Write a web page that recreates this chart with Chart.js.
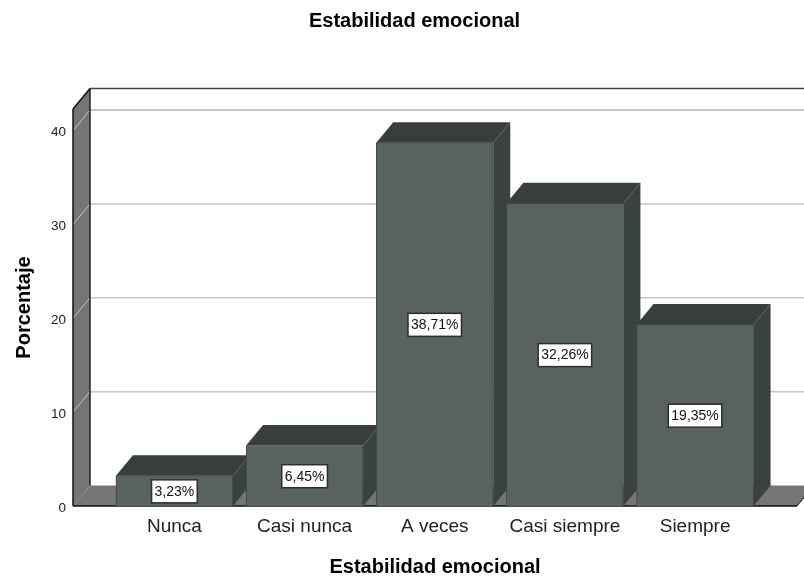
<!DOCTYPE html>
<html>
<head>
<meta charset="utf-8">
<title>Estabilidad emocional</title>
<script src="https://cdn.jsdelivr.net/npm/chart.js@4"></script>
<style>
  html, body { margin: 0; padding: 0; background: #fff; }
  canvas { display: block; }
</style>
</head>
<body>
<canvas id="chart" width="804" height="576"></canvas>
<script>
const categories = ["Nunca", "Casi nunca", "A veces", "Casi siempre", "Siempre"];
const percentages = [3.23, 6.45, 38.71, 32.26, 19.35];
const yTicks = [0, 10, 20, 30, 40];

// profundidad del efecto 3D
const DX = 17, DY = 20.5;
const FONT = '"Liberation Sans", Arial, sans-serif';
const FRONT = "#59635e", TOP = "#383e3a", SIDE = "#3a423d", WALL = "#757575", GRID = "#c6c6c6";

const poly = (ctx, pts, fill) => {
  ctx.beginPath();
  pts.forEach(([x, y], i) => i ? ctx.lineTo(x, y) : ctx.moveTo(x, y));
  ctx.closePath();
  ctx.fillStyle = fill;
  ctx.fill();
};
const seg = (ctx, x1, y1, x2, y2, color, w) => {
  ctx.beginPath();
  ctx.moveTo(x1, y1);
  ctx.lineTo(x2, y2);
  ctx.strokeStyle = color;
  ctx.lineWidth = w;
  ctx.stroke();
};

const box3d = {
  id: "box3d",
  // el título del original no está centrado en el lienzo
  afterLayout(chart) { chart.titleBlock.left = 32; },
  beforeDatasetsDraw(chart) {
    const { ctx, chartArea: a, scales: { y } } = chart;
    const y0 = y.getPixelForValue(0);
    ctx.save();
    // pared izquierda y suelo
    poly(ctx, [[a.left, a.top], [a.left + DX, a.top - DY], [a.left + DX, y0 - DY], [a.left, y0]], WALL);
    poly(ctx, [[a.left, y0], [a.left + DX, y0 - DY], [a.right + DX, y0 - DY], [a.right, y0]], WALL);
    // rejilla
    yTicks.slice(1).forEach(v => {
      const py = y.getPixelForValue(v);
      seg(ctx, a.left, py, a.left + DX, py - DY, GRID, 1);
      seg(ctx, a.left + DX, py - DY, chart.width, py - DY, GRID, v === 40 ? 2 : 1.5);
    });
    // marco
    seg(ctx, a.left + DX, a.top - DY, chart.width, a.top - DY, "#444", 1.5);
    seg(ctx, a.left, a.top, a.left + DX, a.top - DY, "#111", 1.5);
    seg(ctx, a.left + DX, a.top - DY, a.left + DX, y0 - DY, "#222", 1.5);
    seg(ctx, a.left, a.top, a.left, y0, "#111", 1.5);
    seg(ctx, a.left, y0, a.right, y0, "#111", 1.5);
    seg(ctx, a.right, y0, a.right + DX, y0 - DY, "#111", 1);
    // caras superior y lateral de cada barra, de izquierda a derecha
    chart.getDatasetMeta(0).data.forEach(bar => {
      const l = bar.x - bar.width / 2, r = bar.x + bar.width / 2;
      poly(ctx, [[l, bar.y], [l + DX, bar.y - DY], [r + DX, bar.y - DY], [r, bar.y]], TOP);
      poly(ctx, [[r, bar.y], [r + DX, bar.y - DY], [r + DX, y0 - DY], [r, y0]], SIDE);
    });
    ctx.restore();
  },
  afterDatasetsDraw(chart) {
    const { ctx, scales: { y } } = chart;
    const y0 = y.getPixelForValue(0);
    ctx.save();
    ctx.font = "14px " + FONT;
    ctx.textAlign = "center";
    ctx.textBaseline = "middle";
    chart.getDatasetMeta(0).data.forEach((bar, i) => {
      const txt = percentages[i].toFixed(2).replace(".", ",") + "%";
      const w = ctx.measureText(txt).width + 6, h = 23;
      const cy = (bar.y + y0) / 2 + 0.5;
      ctx.fillStyle = "#fff";
      ctx.strokeStyle = "#2e2e2e";
      ctx.lineWidth = 1.5;
      ctx.fillRect(bar.x - w / 2, cy - h / 2, w, h);
      ctx.strokeRect(bar.x - w / 2, cy - h / 2, w, h);
      ctx.fillStyle = "#111";
      ctx.fillText(txt, bar.x, cy + 0.5);
    });
    ctx.restore();
  },
};

new Chart(document.getElementById("chart"), {
  type: "bar",
  plugins: [box3d],
  data: {
    datasets: [{
      label: "Porcentaje",
      data: percentages.map((v, i) => ({ x: i, y: v })),
      backgroundColor: FRONT,
      borderColor: "#3f4643",
      borderWidth: 1,
      barThickness: 117,
    }],
  },
  options: {
    responsive: false,
    animation: false,
    events: [],
    layout: { padding: { left: 0, right: 7, top: 0, bottom: 0 } },
    plugins: {
      legend: { display: false },
      tooltip: { enabled: false },
      title: {
        display: true,
        text: "Estabilidad emocional",
        color: "#000",
        font: { family: FONT, size: 20, weight: "bold", lineHeight: 1.2 },
        padding: { top: 9, bottom: 76 },
      },
    },
    scales: {
      x: {
        type: "linear",
        offset: false,
        min: -0.779,
        max: 4.783,
        afterFit: s => { s.height = 70; },
        afterBuildTicks: s => { s.ticks = categories.map((_, i) => ({ value: i })); },
        grid: { display: false, drawTicks: false },
        border: { display: false },
        ticks: {
          autoSkip: false, maxRotation: 0, padding: 9,
          color: "#222",
          font: { family: FONT, size: 19 },
          callback: v => categories[v],
        },
        title: {
          display: true, text: "Estabilidad emocional", color: "#000",
          font: { family: FONT, size: 20, weight: "bold" },
          padding: { top: 0, bottom: -3 },
        },
      },
      y: {
        min: 0,
        max: 42.3,
        afterFit: s => { s.width = 73; },
        afterBuildTicks: s => { s.ticks = yTicks.map(v => ({ value: v })); },
        grid: { display: false, drawTicks: false },
        border: { display: false },
        ticks: {
          padding: 7,
          labelOffset: 2,
          color: "#222",
          font: { family: FONT, size: 13.5 },
        },
        title: {
          display: true, text: "Porcentaje", color: "#000",
          font: { family: FONT, size: 20, weight: "bold" },
          padding: { top: 12, bottom: 0 },
        },
      },
    },
  },
});
</script>
</body>
</html>
